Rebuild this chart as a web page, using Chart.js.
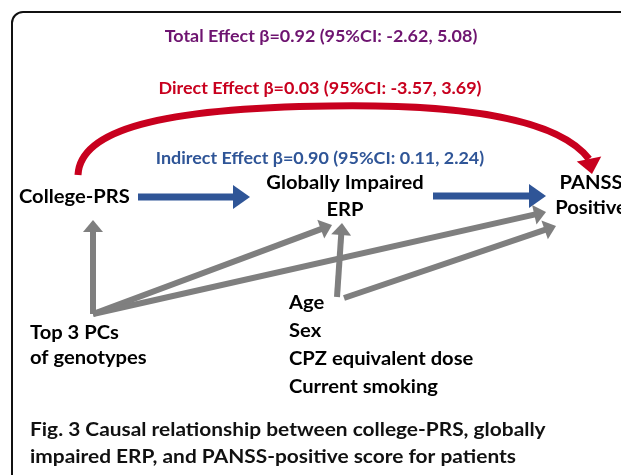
<!DOCTYPE html>
<html><head><meta charset="utf-8">
<script src="https://cdn.jsdelivr.net/npm/chart.js@4"></script>
<style>html,body{margin:0;padding:0;background:#fff;overflow:hidden}canvas{display:block}</style>
</head><body>
<canvas id="c" width="621" height="475"></canvas>
<script>
// ---- data ----
const effectLabels = ["Total Effect β=0.92 (95%CI: -2.62, 5.08)",
                      "Direct Effect β=0.03 (95%CI: -3.57, 3.69)",
                      "Indirect Effect β=0.90 (95%CI: 0.11, 2.24)"];
const effectColors = ["#6E1470", "#C8001E", "#2F5597"];
const effectX = [321, 320, 320];
const effectY = [37, 89, 159];

const nodeNames = ["College-PRS", "Globally Impaired\nERP", "PANSS\nPositive", "Top 3 PCs\nof genotypes", "Age\nSex\nCPZ equivalent dose\nCurrent smoking"];
const nodeX = [19, 345, 591, 30, 289];
const nodeY = [197, 183, 183, 333, 303];
const nodeAlign = ["left", "center", "center", "left", "left"];
const nodeLineGap = [0, 27, 25, 25, 28];

// blue mediation arrows (indirect path)
const blueFromX = [138, 433], blueFromY = [197, 196];
const blueToX = [250, 546], blueToY = [197, 196];
// gray covariate arrows
const grayFromX = [93, 93, 93, 337, 344], grayFromY = [314, 314, 314, 297, 298];
const grayToX = [93, 332, 546, 342, 556], grayToY = [220, 225, 212, 223, 226];
// red direct-effect arc: start, peak, end (arrow tip)
const arcX = [78, 330, 592], arcY = [175, 106, 174];

const caption = ["Fig. 3 Causal relationship between college-PRS, globally",
                 "impaired ERP, and PANSS-positive score for patients"];
const captionX = 30, captionY = [430, 457];

// ---- drawing ----
function arrow(ctx, x1, y1, x2, y2, w, hl, hw, color) {
  const a = Math.atan2(y2 - y1, x2 - x1);
  const bx = x2 - hl * Math.cos(a), by = y2 - hl * Math.sin(a);
  ctx.strokeStyle = color; ctx.fillStyle = color; ctx.lineWidth = w; ctx.lineCap = "butt";
  ctx.beginPath(); ctx.moveTo(x1, y1); ctx.lineTo(bx + Math.cos(a), by + Math.sin(a)); ctx.stroke();
  ctx.beginPath(); ctx.moveTo(x2, y2);
  ctx.lineTo(bx + hw * Math.sin(a), by - hw * Math.cos(a));
  ctx.lineTo(bx - hw * Math.sin(a), by + hw * Math.cos(a));
  ctx.closePath(); ctx.fill();
}
// text with a horizontal stretch factor (imitates the original face's proportions)
function text(ctx, t, x, y, stretch) {
  ctx.save(); ctx.translate(x, y); ctx.scale(stretch, 1); ctx.fillText(t, 0, 0); ctx.restore();
}

const diagram = {
  id: "diagram",
  afterDraw(chart) {
    const ctx = chart.ctx, xs = chart.scales.x, ys = chart.scales.y;
    const X = v => xs.getPixelForValue(v), Y = v => ys.getPixelForValue(v);
    ctx.save();
    // frame
    ctx.strokeStyle = "#111"; ctx.lineWidth = 2;
    ctx.beginPath(); ctx.roundRect(X(12), Y(12), 700, 600, 11); ctx.stroke();
    // effect labels
    ctx.textBaseline = "middle"; ctx.textAlign = "center";
    ctx.font = "bold 17px Lato";
    effectLabels.forEach((t, i) => { ctx.fillStyle = effectColors[i]; text(ctx, t, X(effectX[i]), Y(effectY[i]), 1.055); });
    // red arc
    const sx = X(arcX[0]), sy = Y(arcY[0]), px = X(arcX[1]), py = Y(arcY[1]), ex = X(arcX[2]), ey = Y(arcY[2]);
    const bex = ex - 3, bey = ey - 15;
    ctx.strokeStyle = "#C8001E"; ctx.lineWidth = 7; ctx.lineCap = "butt";
    ctx.beginPath(); ctx.moveTo(sx, sy);
    ctx.bezierCurveTo(sx + 2, py + 24, sx + 82, py + 2, px, py);
    ctx.bezierCurveTo(px + 140, py - 2, bex - 30, py + 14, bex, bey);
    ctx.stroke();
    const a = Math.atan2(ey - bey, ex - bex);
    ctx.fillStyle = "#C8001E";
    ctx.beginPath(); ctx.moveTo(ex, ey);
    ctx.lineTo(bex + 12.5 * Math.sin(a), bey - 12.5 * Math.cos(a));
    ctx.lineTo(bex - 12.5 * Math.sin(a), bey + 12.5 * Math.cos(a));
    ctx.closePath(); ctx.fill();
    // blue arrows
    blueFromX.forEach((_, i) => arrow(ctx, X(blueFromX[i]), Y(blueFromY[i]), X(blueToX[i]), Y(blueToY[i]), 7, 17, 12, "#2F5597"));
    // gray arrows
    grayFromX.forEach((_, i) => arrow(ctx, X(grayFromX[i]), Y(grayFromY[i]), X(grayToX[i]), Y(grayToY[i]), 6, 12, 10, "#7F7F7F"));
    // node labels
    ctx.fillStyle = "#000"; ctx.font = "bold 18px Lato";
    nodeNames.forEach((n, i) => {
      ctx.textAlign = nodeAlign[i];
      n.split("\n").forEach((line, j) => text(ctx, line, X(nodeX[i]), Y(nodeY[i] + j * nodeLineGap[i]), 1.12));
    });
    // caption
    ctx.textAlign = "left"; ctx.font = "bold 18px Lato"; ctx.fillStyle = "#111";
    caption.forEach((c, i) => text(ctx, c, X(captionX), Y(captionY[i]), 1.16));
    ctx.restore();
  }
};

new Chart(document.getElementById("c"), {
  type: "scatter",
  data: { datasets: [{ data: nodeX.map((x, i) => ({ x, y: nodeY[i] })), pointRadius: 0 }] },
  options: {
    responsive: false, animation: false,
    layout: { padding: 0 },
    plugins: { legend: { display: false }, tooltip: { enabled: false } },
    scales: {
      x: { type: "linear", min: 0, max: 621, display: false },
      y: { type: "linear", min: 0, max: 475, reverse: true, display: false }
    }
  },
  plugins: [diagram]
});
</script>
</body></html>
